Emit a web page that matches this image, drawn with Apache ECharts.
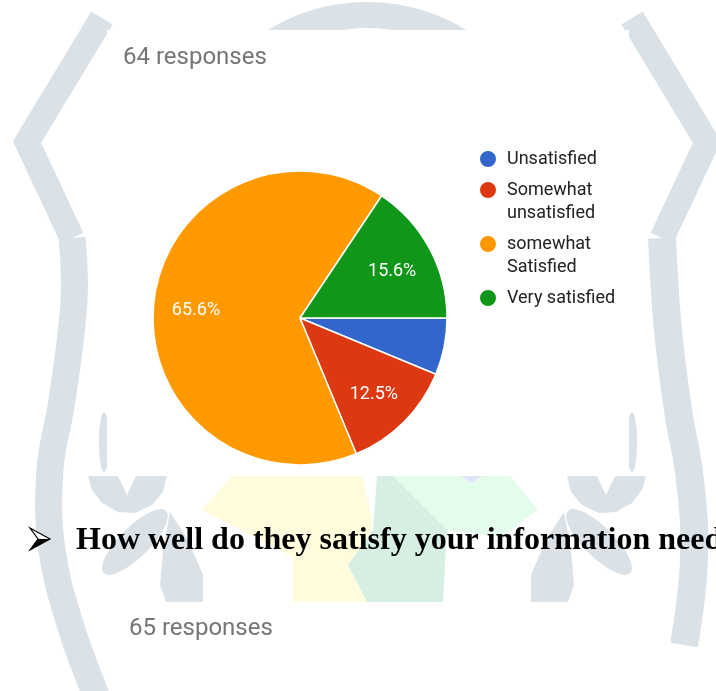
<!DOCTYPE html>
<html><head><meta charset="utf-8">
<script src="https://cdn.jsdelivr.net/npm/echarts@6/dist/echarts.min.js"></script>
<style>html,body{margin:0;padding:0;background:#fff}#chart{width:716px;height:691px}</style>
</head><body><div id="chart"></div>
<script>
// ---- data ----
const categories = ['Unsatisfied', 'Somewhat\nunsatisfied', 'somewhat\nSatisfied', 'Very satisfied'];
const counts = [4, 8, 42, 10];
const hiddenLabels = ['Unsatisfied'];
const responseNote = '64 responses';
const nextResponseNote = '65 responses';
const nextQuestion = 'How well do they satisfy your information need';
const palette = ['#3366cc', '#dc3912', '#ff9900', '#109618'];

// ---- layout constants ----
const legendIconCenters = [159, 190, 244, 298];
const LEGEND_LINE = 23;

// ---- background watermark (decoration) ----
const WM = '#dbe2e7';
const wm = [
  {type:'arc', z:0, shape:{cx:367, cy:191, r:176, startAngle:-Math.PI*0.95, endAngle:-Math.PI*0.05}, style:{stroke:WM, lineWidth:26, fill:null}},
  {type:'polyline', z:0, shape:{points:[[102,18],[27,142],[72,238]]}, style:{stroke:WM, lineWidth:25, lineJoin:'miter', miterLimit:10, fill:null}},
  {type:'polyline', z:0, shape:{points:[[72,238],[74,300],[62,400],[50,470],[52,550],[72,630],[98,700]], smooth:0.4}, style:{stroke:WM, lineWidth:27, fill:null}},
  {type:'polyline', z:0, shape:{points:[[632,18],[707,142],[662,238]]}, style:{stroke:WM, lineWidth:25, lineJoin:'miter', miterLimit:10, fill:null}},
  {type:'polyline', z:0, shape:{points:[[662,238],[668,330],[678,410],[690,480],[694,560],[684,645]], smooth:0.4}, style:{stroke:WM, lineWidth:28, fill:null}},
  // colored emblem pieces
  {type:'polygon', z:0, shape:{points:[[232,476],[362,476],[372,520],[370,602],[293,602],[293,557],[202,510]]}, style:{fill:'#fffcdd'}},
  {type:'polygon', z:0, shape:{points:[[393,476],[510,476],[538,510],[500,537],[447,530]]}, style:{fill:'#e4fcec'}},
  {type:'polygon', z:0, shape:{points:[[377,476],[393,476],[447,530],[443,602],[367,602],[348,565],[373,530]]}, style:{fill:'#d7efe3'}},
  {type:'polygon', z:0, shape:{points:[[461,476],[482,476],[472,483]]}, style:{fill:'#e2e2f8'}},
  // left leaves
  {type:'polygon', z:0, shape:{points:[[88,476],[118,476],[127,495],[136,476],[167,476],[163,492],[152,505],[135,513],[118,512],[102,503],[92,490]]}, style:{fill:WM}},
  {type:'ellipse', z:0, shape:{cx:135, cy:542, rx:44, ry:15}, rotation:Math.PI/4, originX:135, originY:542, style:{fill:WM}},
  {type:'polygon', z:0, shape:{points:[[170,512],[188,540],[203,575],[203,602],[166,602],[160,585],[163,550]]}, style:{fill:WM}},
  {type:'ellipse', z:0, shape:{cx:104, cy:442, rx:5, ry:30}, style:{fill:WM}},
  // right leaves
  {type:'polygon', z:0, shape:{points:[[567,476],[597,476],[606,495],[615,476],[646,476],[642,490],[632,503],[616,512],[599,513],[582,505],[571,492]]}, style:{fill:WM}},
  {type:'ellipse', z:0, shape:{cx:599, cy:542, rx:44, ry:15}, rotation:-Math.PI/4, originX:599, originY:542, style:{fill:WM}},
  {type:'polygon', z:0, shape:{points:[[564,512],[546,540],[531,575],[531,602],[568,602],[574,585],[571,550]]}, style:{fill:WM}},
  {type:'ellipse', z:0, shape:{cx:632, cy:442, rx:5, ry:30}, style:{fill:WM}},
  // pasted screenshot cards
  {type:'rect', z:1, shape:{x:107, y:30, width:522, height:446}, style:{fill:'#ffffff'}},
  {type:'rect', z:1, shape:{x:110, y:602, width:561, height:100}, style:{fill:'#ffffff'}},
  // bullet arrowhead
  {type:'polygon', z:10, shape:{points:[[50,539],[30,528],[38,539],[30,550]]}, style:{fill:'#ffffff', stroke:'#000', lineWidth:1.2, lineJoin:'miter'}},
  {type:'polygon', z:10, shape:{points:[[50,539],[38,539],[30,550]]}, style:{fill:'#000'}},
  // next question heading
  {type:'text', z:10, x:76, y:540.5, style:{text:nextQuestion, fontFamily:'"Liberation Serif"', fontSize:32, fontWeight:'bold', fill:'#000', verticalAlign:'middle'}}
];

// one legend block per category so wrapped labels keep their dot on the first line
const legends = categories.map((n, i) => {
  const twoLine = n.includes('\n');
  const half = twoLine ? LEGEND_LINE * 1.5 : LEGEND_LINE / 2;
  return {
    orient:'vertical', left:478, top: legendIconCenters[i] - half, padding:0,
    itemWidth:18, itemHeight:18, icon:'circle', selectedMode:false, z:6,
    formatter: name => (twoLine ? '\n' + name : name),
    textStyle:{fontFamily:'Roboto', fontSize:18, color:'#222', lineHeight:LEGEND_LINE, padding:[0, 0, 0, 5]},
    data:[n]
  };
});

const chart = echarts.init(document.getElementById('chart'), null, {renderer:'canvas'});
chart.setOption({
  animation:false,
  backgroundColor:'#ffffff',
  graphic: wm,
  title: [
    {text: responseNote, left:123, top:44, padding:0, z:6,
     textStyle:{fontFamily:'Roboto', fontSize:24, fontWeight:'normal', color:'#757575', lineHeight:28}},
    {text: nextResponseNote, left:129, top:615, padding:0, z:6,
     textStyle:{fontFamily:'Roboto', fontSize:24, fontWeight:'normal', color:'#757575', lineHeight:28}}
  ],
  legend: legends,
  series: [
    {
      type:'pie', center:[300,318], radius:147, startAngle:0, clockwise:true, silent:true, z:3,
      data: categories.map((n,i) => ({name:n, value:counts[i], itemStyle:{color:palette[i]}})),
      itemStyle:{borderColor:'#ffffff', borderWidth:1.5},
      label:{show:false}, labelLine:{show:false}, emphasis:{disabled:true}
    },
    {
      type:'pie', center:[300,318], radius:[56,147], startAngle:0, clockwise:true, silent:true, z:4,
      percentPrecision:1,
      data: categories.map((n,i) => ({name:n, value:counts[i], label:{show: !hiddenLabels.includes(n)}})),
      itemStyle:{color:'rgba(0,0,0,0)', borderWidth:0},
      label:{show:true, position:'inside', formatter:'{d}%', color:'#ffffff', fontFamily:'Roboto', fontSize:18, offset:[0, 3]},
      labelLine:{show:false}, emphasis:{disabled:true}
    }
  ]
});
</script></body></html>
